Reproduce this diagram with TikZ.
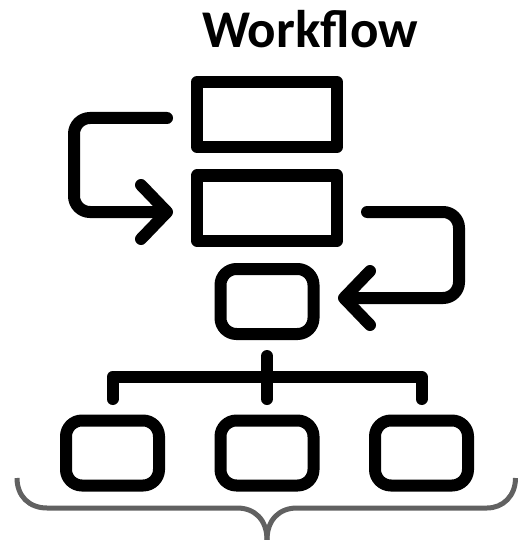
\documentclass[tikz,border=0pt]{standalone}
\usepackage{fontspec}
\setmainfont{Carlito}
\usetikzlibrary{arrows.meta}

\tikzset{
  squarebox/.style={draw, line width=12pt, line join=round, inner sep=0pt, minimum width=140pt, minimum height=65pt},
  softbox/.style={draw, line width=12pt, rounded corners=16pt, inner sep=0pt, minimum width=93pt, minimum height=65pt},
  flowline/.style={line width=12pt, line cap=round, rounded corners=16pt},
  flowtip/.style={-{Straight Barb[length=26pt, width=54pt, line width=12pt, round]}, line width=12pt, line cap=round, rounded corners=16pt},
  bracket/.style={draw=black!62, line width=5pt}
}

\begin{document}
\begin{tikzpicture}[x=1pt, y=-1pt]
      \useasboundingbox (0, 0) rectangle (518, 540);

      \node[font=\bfseries\fontsize{53}{53}\selectfont] (title) at (310, 29){Workflow};

      \node[squarebox] (taskA) at (267, 114.5){};
      \node[squarebox] (taskB) at (267, 208){};
      \node[softbox] (taskC) at (267, 301.5){};
      \node[softbox] (leafA) at (112.5, 453){};
      \node[softbox] (leafB) at (267, 453){};
      \node[softbox] (leafC) at (421.5, 453){};

      \coordinate (loopstart) at (167, 118);
      \coordinate (looptip) at (173, 212);
      \coordinate (returnstart) at (367, 212);
      \coordinate (returntip) at (338, 298);
      \coordinate (stem) at (267, 356);
      \coordinate (bus) at (267, 377);

      \draw[flowtip] (loopstart) -- (74, 118) -- (74, 212) -- (looptip);
      \draw[flowtip] (returnstart) -- (459, 212) -- (459, 298) -- (returntip);

      \draw[flowline] (stem) -- (267, 399);
      \draw[flowline, rounded corners=0pt, line join=round] (112.5, 399) -- (112.5 ,377) -- (bus) -- (421.5, 377) -- (421.5, 399);

      \coordinate (braceleft) at (17, 478);
      \coordinate (braceright) at (515.5, 478);
      \coordinate (bracetip) at (267, 540);
      \draw[bracket] (braceleft) .. controls (17, 496) and (29, 508) .. (47, 508) -- (237, 508) .. controls (255, 508) and (267, 520) .. (bracetip);
      \draw[bracket] (braceright) .. controls (515.5, 496) and (503, 508) .. (487, 508) -- (297, 508) .. controls (279, 508) and (267, 520) .. (bracetip);
\end{tikzpicture}
\end{document}
